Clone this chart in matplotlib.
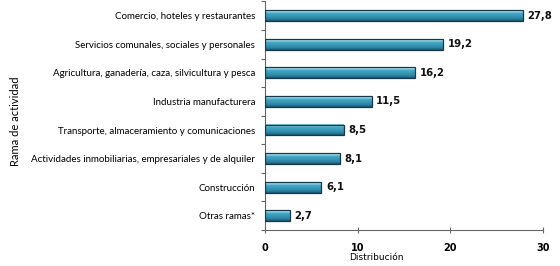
import matplotlib
matplotlib.use("Agg")
import matplotlib.pyplot as plt
import numpy as np
from matplotlib.colors import LinearSegmentedColormap

# Datos
RAMAS = [
    "Comercio, hoteles y restaurantes",
    "Servicios comunales, sociales y personales",
    "Agricultura, ganadería, caza, silvicultura y pesca",
    "Industria manufacturera",
    "Transporte, almaceramiento y comunicaciones",
    "Actividades inmobiliarias, empresariales y de alquiler",
    "Construcción",
    "Otras ramas*",
]
VALORES = [27.8, 19.2, 16.2, 11.5, 8.5, 8.1, 6.1, 2.7]
ETIQUETAS = ["27,8", "19,2", "16,2", "11,5", "8,5", "8,1", "6,1", "2,7"]
XTICKS = [0, 10, 20, 30]

fig = plt.figure(figsize=(5.6, 2.66), dpi=100)
ax = fig.add_axes([0.473, 0.135, 0.497, 0.86])

n = len(RAMAS)
ys = np.arange(n)[::-1]
alto = 0.38

# degradado tipo cilindro (abajo -> arriba)
cmap = LinearSegmentedColormap.from_list(
    "cil",
    [(0.0, "#1b5570"), (0.2, "#2c82a1"), (0.5, "#3a9bba"),
     (0.72, "#46a9c7"), (0.86, "#a2e0ee"), (1.0, "#62b9d2")],
)
grad = np.linspace(0, 1, 64).reshape(-1, 1)

for y, v, t in zip(ys, VALORES, ETIQUETAS):
    ax.imshow(grad, cmap=cmap, aspect="auto", origin="lower",
              extent=(0, v, y - alto / 2, y + alto / 2), zorder=2)
    ax.barh(y, v, height=alto, facecolor="none", edgecolor="#163848",
            linewidth=0.9, zorder=3)
    ax.text(v + 0.5, y, t, va="center", ha="left", fontsize=7.3,
            fontweight="bold", family="DejaVu Sans", color="#111111")

ax.set_xlim(0, 30)
ax.set_ylim(-0.5, n - 0.5)
ax.set_xticks(XTICKS)
ax.set_xticklabels([str(x) for x in XTICKS], family="DejaVu Sans",
                   fontsize=7, fontweight="bold")
ax.set_yticks(ys)
ax.set_yticklabels(RAMAS, family="Lato", fontsize=7.0)
ax.set_yticks(np.arange(n + 1) - 0.5, minor=True)
ax.tick_params(axis="y", which="major", length=0, pad=7)
ax.tick_params(axis="y", which="minor", length=3, width=0.8, color="#666666")
ax.tick_params(axis="x", length=4, width=0.8, color="#666666",
               direction="inout", pad=7)

for s in ["top", "right"]:
    ax.spines[s].set_visible(False)
for s in ["left", "bottom"]:
    ax.spines[s].set_color("#666666")
    ax.spines[s].set_linewidth(0.8)

ax.set_xlabel("Distribución", family="DejaVu Sans", fontsize=6.5, labelpad=1)
ax.xaxis.set_label_coords(0.40, -0.10)
fig.text(0.028, 0.545, "Rama de actividad", rotation=90, va="center",
         ha="center", family="Lato", fontsize=8)

fig.savefig("out.png", dpi=100)
